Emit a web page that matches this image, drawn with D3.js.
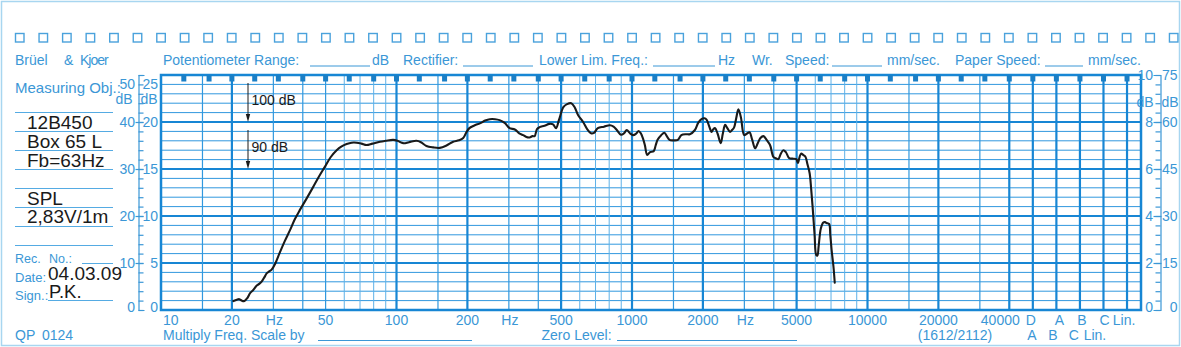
<!DOCTYPE html>
<html><head><meta charset="utf-8">
<script src="https://cdn.jsdelivr.net/npm/d3@7"></script>
<style>
html,body{margin:0;padding:0;background:#fff;}
svg{display:block;font-family:"Liberation Sans",Arial,Helvetica,sans-serif;}
</style></head><body>
<svg id="chart" width="1181" height="347"></svg>
<script>
// Measured response: frequency (Hz) and sound pressure level (dB SPL)
const freqHz = [
  20.3,21.0,21.5,22.0,22.6,23.3,23.9,24.6,25.5,26.2,
  26.8,27.5,28.1,28.8,29.5,30.5,32,33.5,35.3,37,
  38.9,41.5,44.3,47,49.7,52.5,55.7,58.5,61.4,64.5,
  67.7,71,74.6,79,85,90,96.8,101,106.7,113,
  121.5,127,134,143,152.8,163,174,184,192,198,
  204,215,226,238,249,262,274,288,302,318,
  332,345,356,367,378,386,395,405,425,446,
  462,476,490,512,530,552,570,590,620,645,
  670,690,716,760,806,835,862,897,925,950,
  980,1011,1040,1067,1090,1113,1135,1160,1193,1237,
  1260,1284,1330,1372,1405,1443,1500,1566,1620,1700,
  1760,1850,1910,1973,2030,2073,2120,2177,2210,2250,
  2310,2380,2430,2485,2540,2608,2660,2712,2770,2830,
  2900,2994,3070,3153,3240,3333,3420,3510,3613,3730,
  3856,3984,4080,4183,4280,4390,4500,4650,4800,4985,
  5062,5150,5230,5330,5450,5560,5680,5760,5860,5960,
  6060,6130,6200,6340,6490,6600,6700,6870,6950,7040,
  7170,7260
];
const splDb = [
  61.9,62.2,62.3,62.0,61.9,62.6,63.6,64.2,65.2,65.6,
  66.1,67.0,67.8,68.2,68.6,69.8,72.3,74.6,77.0,79.3,
  81.3,83.7,86.2,88.5,90.5,92.5,94.0,94.8,95.3,95.6,
  95.6,95.4,95.1,95.4,95.8,96.0,96.2,96.0,95.5,95.7,
  96.0,95.7,94.9,94.6,94.5,95.0,95.8,96.1,96.6,97.8,
  98.7,99.3,99.7,100.3,100.6,100.6,100.4,99.8,98.7,98.4,
  97.6,97.2,96.8,96.7,97.0,97.0,98.5,98.9,99.2,99.6,
  99.5,98.7,100.5,103.2,103.8,104.0,103.2,101.5,100.0,98.5,
  97.6,97.7,98.7,99.0,99.3,99.0,98.3,97.3,97.6,98.3,
  97.6,97.2,97.5,98.1,97.6,96.5,95.0,93.0,93.6,93.8,
  95.0,96.2,97.2,97.7,97.0,96.2,96.1,96.2,97.2,97.4,
  97.4,98.3,99.8,100.6,100.8,100.5,99.3,97.9,98.4,98.7,
  97.5,95.5,97.5,99.4,98.7,97.9,98.3,98.8,100.8,102.7,
  101.0,97.2,97.5,97.8,96.2,94.4,95.5,96.6,97.0,96.2,
  95.1,92.6,92.3,92.1,93.2,94.0,93.6,92.3,92.2,92.1,
  91.3,92.6,93.3,93.0,92.6,91.0,89.1,86.0,81.3,76.0,
  71.7,71.6,73.5,77.4,78.6,78.7,78.5,78.3,76.0,72.8,
  69.2,65.8
];

// Reference levels marked on the chart
const refLevels = [100, 90];
const refLabels = ["100 dB", "90 dB"];

// Paper scales
const leftOuterTicks = [0, 10, 20, 30, 40, 50];
const leftInnerTicks = [0, 5, 10, 15, 20, 25];
const rightInnerTicks = [0, 2, 4, 6, 8, 10];
const rightOuterTicks = [0, 15, 30, 45, 60, 75];

// Frequency axis
const freqTicks = [10, 20, 50, 100, 200, 500, 1000, 2000, 5000, 10000, 20000, 40000];
const freqTickLabels = ["10", "20", "50", "100", "200", "500", "1000", "2000", "5000", "10000", "20000", "40000"];
const hzLabelFreqs = [30, 300, 3000];
const gridMultipliers = [1, 1.5, 2, 3, 4, 5, 6, 7, 8, 9];
const thickFreqs = [20, 100, 200, 500, 1000, 2000, 5000, 10000, 20000, 40000];
const thirdOctaves = [12.5,16,20,25,31.5,40,50,63,80,100,125,160,200,250,315,400,500,630,800,
  1000,1250,1600,2000,2500,3150,4000,5000,6300,8000,10000,12500,16000,20000,25000,31500,40000];
const weightingCols = ["D", "A", "B", "C", "Lin."];
const weightingRow2 = ["A", "B", "C", "Lin."];

// Form fields
const objectLines = ["12B450", "Box 65 L", "Fb=63Hz"];
const measureLines = ["SPL", "2,83V/1m"];
const recDate = "04.03.09";
const signedBy = "P.K.";

const BLUE_TEXT = "#3b97d6";
const BLUE_THICK = "#1786d4";
const BLUE_MID = "#3198de";
const BLUE_LIGHT = "#5eb1e8";
const INK = "#1a1a1a";

const svg = d3.select("#chart");
const L = 161, R = 1141, T = 75, B = 310;

const x = d3.scaleLog().domain([10, 145000]).range([L, R]);
const y = d3.scaleLinear().domain([60, 110]).range([B, T]);        // dB SPL
const yPaper = d3.scaleLinear().domain([0, 50]).range([B, T]);
const yInner = d3.scaleLinear().domain([0, 25]).range([B, T]);
const yRightIn = d3.scaleLinear().domain([0, 10]).range([B, T]);
const yRightOut = d3.scaleLinear().domain([0, 75]).range([B, T]);

// weighting columns continue the third-octave series past 40 kHz
const colX = i => x(40000 * Math.pow(10, (i + 1) / 10));

// outer frame of the sheet
svg.append("rect").attr("x", 1.5).attr("y", 1.5).attr("width", 1178).attr("height", 344)
  .attr("fill", "none").attr("stroke", "#a8d6f0").attr("stroke-width", 1.5);

// sprocket squares
const sqStep = x(10 * Math.pow(10, 0.1)) - x(10);
svg.append("g").selectAll("rect").data(d3.range(50)).join("rect")
  .attr("x", i => 15.5 + i * sqStep).attr("y", 33.5).attr("width", 8.5).attr("height", 8.5)
  .attr("fill", "none").attr("stroke", "#4aa2dc").attr("stroke-width", 1.4);

// header fields
const hdr = svg.append("g").attr("fill", BLUE_TEXT).attr("font-size", 14);
const headerTexts = [
  ["Potentiometer Range:", 163], ["dB", 372], ["Rectifier:", 403], ["Lower Lim. Freq.:", 539],
  ["Hz", 718], ["Wr.", 752], ["Speed:", 785], ["mm/sec.", 887], ["Paper Speed:", 955], ["mm/sec.", 1088]
];
headerTexts.forEach(([t, px]) => hdr.append("text").attr("x", px).attr("y", 65).text(t));
[[310, 370], [463, 533], [653, 715], [832, 882], [1045, 1083]].forEach(([a, b]) =>
  hdr.append("line").attr("x1", a).attr("x2", b).attr("y1", 66).attr("y2", 66)
    .attr("stroke", BLUE_TEXT).attr("stroke-width", 1));

// left form panel
const panel = svg.append("g");
panel.append("text").attr("x", 15).attr("y", 65).attr("fill", BLUE_TEXT).attr("font-size", 14).text("Brüel");
panel.append("text").attr("x", 64).attr("y", 65).attr("fill", BLUE_TEXT).attr("font-size", 14).text("&");
panel.append("text").attr("x", 80).attr("y", 65).attr("fill", BLUE_TEXT).attr("font-size", 14)
  .attr("letter-spacing", -1).text("Kjoer");
panel.append("text").attr("x", 15).attr("y", 93).attr("fill", BLUE_TEXT).attr("font-size", 15).text("Measuring Obj.:");
[112, 131, 150, 169, 188, 207, 226, 245].forEach(py =>
  panel.append("line").attr("x1", 15).attr("x2", 113).attr("y1", py + 0.5).attr("y2", py + 0.5)
    .attr("stroke", "#55abe3").attr("stroke-width", 1.1));
objectLines.forEach((t, i) => panel.append("text").attr("x", 27).attr("y", 128.5 + i * 19)
  .attr("fill", INK).attr("font-size", 19).text(t));
measureLines.forEach((t, i) => panel.append("text").attr("x", 27).attr("y", 204.5 + i * 18.5)
  .attr("fill", INK).attr("font-size", 19).text(t));
panel.append("text").attr("x", 15).attr("y", 262.5).attr("fill", BLUE_TEXT).attr("font-size", 12.5).text("Rec.");
panel.append("text").attr("x", 49).attr("y", 262.5).attr("fill", BLUE_TEXT).attr("font-size", 12.5).text("No.:");
panel.append("line").attr("x1", 82).attr("x2", 113).attr("y1", 263.5).attr("y2", 263.5).attr("stroke", "#55abe3");
panel.append("text").attr("x", 15).attr("y", 282).attr("fill", BLUE_TEXT).attr("font-size", 13).text("Date:");
panel.append("text").attr("x", 15).attr("y", 300).attr("fill", BLUE_TEXT).attr("font-size", 13).text("Sign.:");
panel.append("line").attr("x1", 48).attr("x2", 113).attr("y1", 300.5).attr("y2", 300.5).attr("stroke", "#55abe3");
panel.append("text").attr("x", 48).attr("y", 280).attr("fill", INK).attr("font-size", 19).text(recDate);
panel.append("text").attr("x", 49).attr("y", 298).attr("fill", INK).attr("font-size", 18.5).text(signedBy);
panel.append("text").attr("x", 15).attr("y", 339.5).attr("fill", BLUE_TEXT).attr("font-size", 14).text("QP");
panel.append("text").attr("x", 42).attr("y", 339.5).attr("fill", BLUE_TEXT).attr("font-size", 14).text("0124");

// grid: horizontal lines every 2 dB of the 50 dB paper scale
const grid = svg.append("g");
grid.selectAll("line.h").data(d3.range(2, 50, 2)).join("line").attr("class", "h")
  .attr("x1", L).attr("x2", R).attr("y1", d => yPaper(d)).attr("y2", d => yPaper(d))
  .attr("stroke", d => d % 10 === 0 ? BLUE_THICK : BLUE_MID)
  .attr("stroke-width", d => d % 10 === 0 ? 2 : 1);

// grid: vertical frequency lines
const gridFreqs = [];
[10, 100, 1000, 10000].forEach(dec => gridMultipliers.forEach(m => {
  const f = dec * m;
  if (f > 10 && f <= 40000) gridFreqs.push({ f, m });
}));
grid.selectAll("line.v").data(gridFreqs).join("line").attr("class", "v")
  .attr("x1", d => x(d.f)).attr("x2", d => x(d.f)).attr("y1", T).attr("y2", B)
  .attr("stroke", d => thickFreqs.includes(d.f) ? BLUE_THICK : (d.m >= 6 ? BLUE_LIGHT : BLUE_MID))
  .attr("stroke-width", d => thickFreqs.includes(d.f) ? 2.2 : (d.m >= 6 ? 1 : 1.2));
grid.selectAll("line.w").data(weightingCols).join("line").attr("class", "w")
  .attr("x1", (d, i) => colX(i)).attr("x2", (d, i) => colX(i)).attr("y1", T).attr("y2", B)
  .attr("stroke", BLUE_THICK).attr("stroke-width", 2.2);

// plot border
svg.append("rect").attr("x", L).attr("y", T).attr("width", R - L).attr("height", B - T)
  .attr("fill", "none").attr("stroke", BLUE_THICK).attr("stroke-width", 2.5);

// third-octave marks along the top edge
const markX = thirdOctaves.map(f => x(f)).concat(weightingCols.map((d, i) => colX(i)));
svg.append("g").selectAll("rect").data(markX).join("rect")
  .attr("x", d => d - 2.5).attr("y", T).attr("width", 5).attr("height", 6.5)
  .attr("fill", "#1a7fc6");

// left paper scales
function styleAxis(g) {
  g.selectAll("path,line").attr("stroke", BLUE_TEXT).attr("stroke-width", 1.2);
  g.selectAll("text").remove();
}
svg.append("g").attr("transform", "translate(138.5,0)")
  .call(d3.axisRight(yPaper).tickValues(d3.range(0, 51, 2)).tickSize(5).tickSizeOuter(6).tickFormat(""))
  .call(styleAxis);
svg.append("g").attr("transform", "translate(135.5,0)")
  .call(d3.axisRight(yPaper).tickValues(leftOuterTicks.slice(1, -1)).tickSize(8).tickFormat(""))
  .call(g => g.select(".domain").remove()).call(styleAxis);
// right paper scales
svg.append("g").attr("transform", "translate(1160.5,0)")
  .call(d3.axisLeft(yRightIn).tickValues(d3.range(0, 10.1, 0.4)).tickSize(5).tickSizeOuter(7).tickFormat(""))
  .call(styleAxis);
svg.append("g").attr("transform", "translate(1161.5,0)")
  .call(d3.axisLeft(yRightIn).tickValues(rightInnerTicks.slice(1, -1)).tickSize(8).tickFormat(""))
  .call(g => g.select(".domain").remove()).call(styleAxis);

const lab = svg.append("g").attr("fill", BLUE_TEXT).attr("font-size", 14).attr("dominant-baseline", "central");
const clampL = v => Math.min(Math.max(v, 84), 306.5);
leftOuterTicks.forEach(v => lab.append("text").attr("x", 135).attr("y", clampL(yPaper(v)))
  .attr("text-anchor", "end").text(v));
leftInnerTicks.forEach(v => lab.append("text").attr("x", 158).attr("y", clampL(yInner(v)))
  .attr("text-anchor", "end").text(v));
const clampR = v => Math.min(v, 306.5);
rightInnerTicks.forEach(v => lab.append("text").attr("x", 1153).attr("y", clampR(yRightIn(v)))
  .attr("text-anchor", "end").text(v));
rightOuterTicks.forEach(v => lab.append("text").attr("x", 1177.5).attr("y", clampR(yRightOut(v)))
  .attr("text-anchor", "end").text(v));
lab.append("text").attr("x", 132.5).attr("y", 99).attr("text-anchor", "end").text("dB");
lab.append("text").attr("x", 157.5).attr("y", 99).attr("text-anchor", "end").text("dB");
lab.append("text").attr("x", 1153.5).attr("y", 101.5).attr("text-anchor", "end").text("dB");
lab.append("text").attr("x", 1178.5).attr("y", 101.5).attr("text-anchor", "end").text("dB");

// frequency labels
const fl = svg.append("g").attr("fill", BLUE_TEXT).attr("font-size", 14).attr("text-anchor", "middle");
freqTicks.forEach((f, i) => {
  const t = fl.append("text").attr("y", 325).text(freqTickLabels[i]);
  if (i === 0) t.attr("x", x(f) + 2).attr("text-anchor", "start");
  else if (f === 40000) t.attr("x", x(f) - 9);
  else t.attr("x", x(f));
});
hzLabelFreqs.forEach(f => fl.append("text").attr("x", x(f) + 1).attr("y", 325).text("Hz"));
weightingCols.forEach((w, i) => {
  const shift = [-2, 3, 2, 1, -3][i];
  fl.append("text").attr("x", colX(i) + shift).attr("y", 325).text(w);
});
weightingRow2.forEach((w, i) => fl.append("text").attr("x", colX(i) - 1 - i * 2.5).attr("y", 339.5).text(w));
fl.append("text").attr("x", 955).attr("y", 339.5).text("(1612/2112)");

const foot = svg.append("g").attr("fill", BLUE_TEXT).attr("font-size", 14);
foot.append("text").attr("x", 163).attr("y", 339.5).text("Multiply Freq. Scale by");
foot.append("text").attr("x", 541.5).attr("y", 339.5).text("Zero Level:");
[[318, 472], [617, 797]].forEach(([a, b]) => foot.append("line").attr("x1", a).attr("x2", b)
  .attr("y1", 340.5).attr("y2", 340.5).attr("stroke", BLUE_TEXT).attr("stroke-width", 1));

// reference level arrows
const ann = svg.append("g");
const arrowX = 248;
refLevels.forEach((lv, i) => {
  const yEnd = y(lv);
  const yStart = i === 0 ? 83 : y(refLevels[0]) + 8;
  ann.append("line").attr("x1", arrowX).attr("x2", arrowX).attr("y1", yStart).attr("y2", yEnd - 6)
    .attr("stroke", INK).attr("stroke-width", 1);
  ann.append("path").attr("d", `M${arrowX - 2.2},${yEnd - 8}L${arrowX + 2.2},${yEnd - 8}L${arrowX},${yEnd}Z`)
    .attr("fill", INK);
  ann.append("text").attr("x", 251.5).attr("y", i === 0 ? 105 : 152).attr("font-size", 14)
    .attr("fill", INK).text(refLabels[i]);
});

// response curve
const pts = freqHz.map((f, i) => [f, splDb[i]]);
const line = d3.line().x(d => x(d[0])).y(d => y(d[1])).curve(d3.curveCatmullRom.alpha(0.5));
svg.append("path").datum(pts).attr("d", line).attr("fill", "none")
  .attr("stroke", INK).attr("stroke-width", 2.1).attr("stroke-linejoin", "round").attr("stroke-linecap", "round");
</script>
</body></html>
